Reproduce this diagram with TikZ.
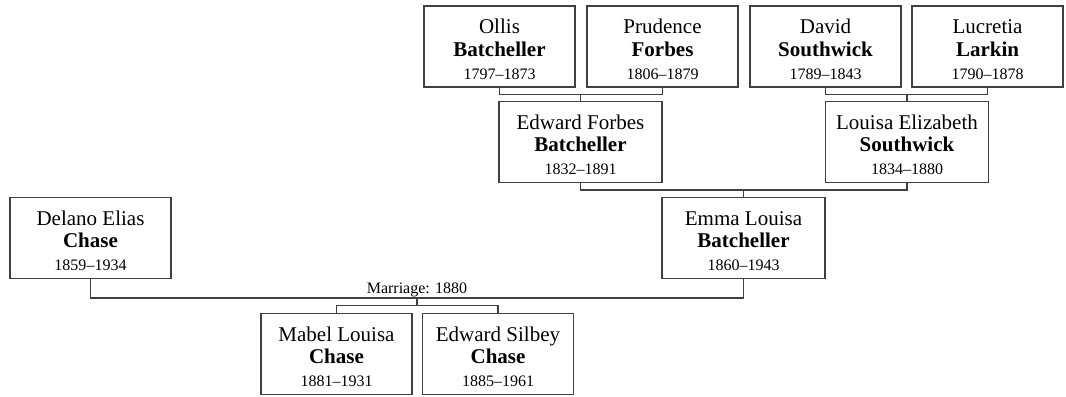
\documentclass[tikz,border=0pt]{standalone}
\usepackage{fontspec}
\setmainfont{Liberation Serif}
\usetikzlibrary{calc}
\newcommand{\yrs}[1]{{\fontsize{12}{14}\selectfont #1}}
\newcommand{\firstln}{\rule{0pt}{15pt}}
\tikzset{
  person/.style={draw=black!75, line width=1.1pt, fill=white, align=center,
    minimum width=151*0.75pt, minimum height=81*0.75pt, inner sep=2pt,
    font=\fontsize{15.75}{17}\selectfont},
  wide/.style={person, minimum width=163*0.75pt},
  link/.style={draw=black!75, line width=1.1pt},
}
\begin{document}
\begin{tikzpicture}[x=0.75pt,y=0.75pt]
\useasboundingbox (0,0) rectangle (1066,396);
% grandparents
\node[person] (ollis) at (499.5,349.5) {\firstln Ollis\\\textbf{Batcheller}\\\yrs{1797--1873}};
\node[person] (prudence) at (662.5,349.5) {\firstln Prudence\\\textbf{Forbes}\\\yrs{1806--1879}};
\node[person] (david) at (825.5,349.5) {\firstln David\\\textbf{Southwick}\\\yrs{1789--1843}};
\node[person] (lucretia) at (987.5,349.5) {\firstln Lucretia\\\textbf{Larkin}\\\yrs{1790--1878}};
% parents of Emma
\node[wide] (edward) at (580.5,254) {\firstln Edward Forbes\\\textbf{Batcheller}\\\yrs{1832--1891}};
\node[wide] (louisa) at (907,254) {\firstln Louisa Elizabeth\\\textbf{Southwick}\\\yrs{1834--1880}};
% couple
\node[wide] (emma) at (743.5,158) {\firstln Emma Louisa\\\textbf{Batcheller}\\\yrs{1860--1943}};
\node[wide, minimum width=161*0.75pt] (delano) at (90.5,158) {\firstln Delano Elias\\\textbf{Chase}\\\yrs{1859--1934}};
% children
\node[person] (mabel) at (336.5,42) {\firstln Mabel Louisa\\\textbf{Chase}\\\yrs{1881--1931}};
\node[person] (silbey) at (498,42) {\firstln Edward Silbey\\\textbf{Chase}\\\yrs{1885--1961}};

\draw[link] (ollis.south) -- ++(0,-7) -| (prudence.south);
\draw[link] (edward.north) -- ++(0,7);
\draw[link] (david.south) -- ++(0,-7) -| (lucretia.south);
\draw[link] (louisa.north) -- ++(0,7);
\draw[link] (edward.south) -- ++(0,-7) -| (louisa.south);
\draw[link] (emma.north) -- ++(0,8);
\path (delano.south) ++(0,-19) coordinate (d1);
\draw[link] (delano.south) -- (d1) -| (emma.south);
\coordinate (m) at ($(d1)!0.5!(d1 -| emma.south)$);
\node[above, inner sep=0.5pt, font=\fontsize{12}{14}\selectfont] (wed) at (m) {Marriage: 1880};
\draw[link] (m) -- ++(0,-8);
\draw[link] (mabel.north) -- ++(0,7) -| (silbey.north);
\end{tikzpicture}
\end{document}
